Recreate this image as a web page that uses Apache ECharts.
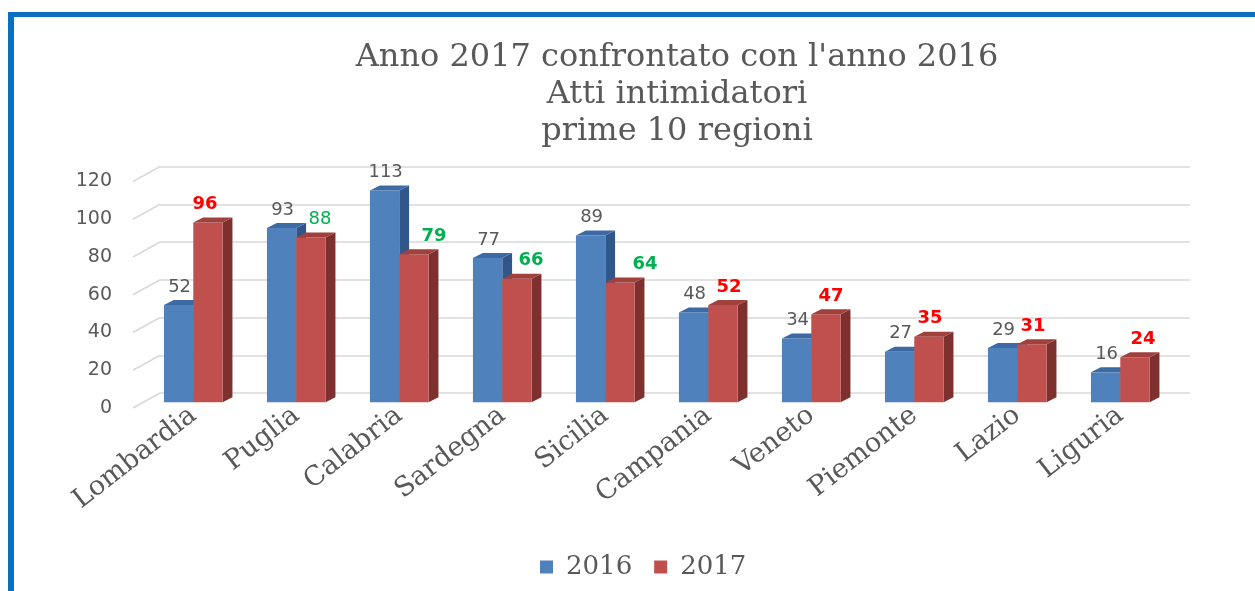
<!DOCTYPE html>
<html>
<head>
<meta charset="utf-8">
<script src="https://cdn.jsdelivr.net/npm/echarts@6/dist/echarts.min.js"></script>
<style>
  html, body { margin: 0; padding: 0; background: #ffffff; }
  #chart { position: absolute; left: 0; top: 0; width: 1255px; height: 591px; }
  #frame {
    position: absolute; left: 8px; top: 12px; right: 0; bottom: 0;
    border-left: 6px solid #0C70C2; border-top: 5px solid #0C70C2;
    pointer-events: none;
  }
</style>
</head>
<body>
<div id="chart"></div>
<div id="frame"></div>
<script>
// ---- data ----
const regions = ['Lombardia', 'Puglia', 'Calabria', 'Sardegna', 'Sicilia',
                 'Campania', 'Veneto', 'Piemonte', 'Lazio', 'Liguria'];
const values2016 = [52, 93, 113, 77, 89, 48, 34, 27, 29, 16];
const values2017 = [96, 88, 79, 66, 64, 52, 47, 35, 31, 24];
const seriesNames = ['2016', '2017'];
const yTicks = [0, 20, 40, 60, 80, 100, 120];
const titleLines = ["Anno 2017 confrontato con l'anno 2016", 'Atti intimidatori', 'prime 10 regioni'];

// ---- styling ----
const GREY = '#595959';
const SERIF = '"DejaVu Serif", "Liberation Serif", serif';
const SANS = '"DejaVu Sans", Verdana, sans-serif';
const palette = [
  { front: '#4F81BD', top: '#3D6AA5', side: '#30578A' },
  { front: '#C0504D', top: '#A0413E', side: '#7E302E' }
];
// horizontal shift of the 2017 value labels, in px
const labelShift2017 = [-3, 9, 20, 14, 25, 6, 5, 1, 1, 8];
const boldLabel2017 = [true, false, true, true, true, true, true, true, true, true];

const yMin = yTicks[0], yMax = yTicks[yTicks.length - 1], yStep = yTicks[1] - yTicks[0];

function labelStyle2017(i) {
  const down = values2017[i] < values2016[i];
  return {
    fill: down ? '#00B050' : '#FF0000',
    font: (boldLabel2017[i] ? 'bold ' : '') + '18px ' + SANS
  };
}

// 3D column: front face, right side face, top face and value label
function columnRenderer(slot) {
  return function (params, api) {
    const i = api.value(0);
    const v = api.value(1);
    const base = api.coord([i, 0]);
    const top = api.coord([i, v]);
    const band = api.size([1, 0])[0];
    const bw = band * 0.285;
    const dx = band * 0.095;
    const dy = 5;
    const x0 = base[0] - bw + slot * bw;
    const yT = top[1];
    const yB = base[1];
    const c = palette[slot];
    let lx = x0 + bw / 2 + 1;
    let ls = { fill: GREY, font: '18px ' + SANS };
    if (slot === 1) {
      lx = x0 + bw / 2 + labelShift2017[i];
      ls = labelStyle2017(i);
    }
    return {
      type: 'group',
      children: [
        { type: 'polygon',
          shape: { points: [[x0 + bw, yT], [x0 + bw + dx, yT - dy], [x0 + bw + dx, yB - dy], [x0 + bw, yB]] },
          style: { fill: c.side } },
        { type: 'rect',
          shape: { x: x0, y: yT, width: bw, height: yB - yT },
          style: { fill: c.front } },
        { type: 'polygon',
          shape: { points: [[x0, yT], [x0 + bw, yT], [x0 + bw + dx, yT - dy], [x0 + dx, yT - dy]] },
          style: { fill: c.top } },
        { type: 'text',
          x: lx, y: yT - dy - 13,
          style: Object.assign({ text: String(v), align: 'center', verticalAlign: 'middle' }, ls) }
      ]
    };
  };
}

// slanted lines joining the back wall gridlines to the front value labels
function wallEdgeRenderer(params, api) {
  const p = api.coord([0, api.value(0)]);
  return {
    type: 'line',
    shape: { x1: p[0], y1: p[1], x2: p[0] - 27, y2: p[1] + 15 },
    style: { stroke: '#D9D9D9', lineWidth: 1.5 }
  };
}

const chart = echarts.init(document.getElementById('chart'), null, { renderer: 'canvas' });

const valueAxisBase = { type: 'value', min: yMin, max: yMax, interval: yStep };

chart.setOption({
  animation: false,
  backgroundColor: '#ffffff',
  title: {
    text: titleLines.join('\n'),
    left: 677,
    top: 39,
    padding: 0,
    textAlign: 'center',
    textStyle: {
      fontFamily: SERIF, fontSize: 32, fontWeight: 'normal',
      color: GREY, lineHeight: 37, align: 'center'
    }
  },
  legend: {
    data: seriesNames,
    left: 535,
    top: 549,
    icon: 'rect',
    itemWidth: 13,
    itemHeight: 13,
    itemGap: 22,
    selectedMode: false,
    textStyle: { fontFamily: SERIF, fontSize: 26, color: GREY, padding: [0, 0, 0, 8] }
  },
  grid: [
    // back wall (gridlines)
    { left: 160, right: 65, top: 166.5, bottom: 198 },
    // columns
    { left: 141.8, right: 83.2, top: 177.5, bottom: 188.7 },
    // front edge (value labels)
    { left: 133, right: 92, top: 181.5, bottom: 183 }
  ],
  xAxis: [
    { gridIndex: 0, type: 'value', min: 0, max: 1, show: false },
    { gridIndex: 1, type: 'category', data: regions,
      axisLine: { show: false }, axisTick: { show: false },
      axisLabel: { interval: 0, rotate: 38, margin: 10,
        fontFamily: SERIF, fontSize: 27, color: GREY } },
    { gridIndex: 2, type: 'category', data: regions, show: false }
  ],
  yAxis: [
    Object.assign({ gridIndex: 0,
      axisLine: { show: false }, axisTick: { show: false }, axisLabel: { show: false },
      splitLine: { show: true, lineStyle: { color: '#D9D9D9', width: 1.5 } } }, valueAxisBase),
    Object.assign({ gridIndex: 1, show: false, splitLine: { show: false } }, valueAxisBase),
    Object.assign({ gridIndex: 2,
      axisLine: { show: false }, axisTick: { show: false }, splitLine: { show: false },
      axisLabel: { margin: 21, fontFamily: SANS, fontSize: 19, color: GREY } }, valueAxisBase)
  ],
  series: [
    { type: 'custom', name: 'edges', xAxisIndex: 0, yAxisIndex: 0, silent: true,
      renderItem: wallEdgeRenderer, data: yTicks.map(v => [v]) },
    { type: 'custom', name: seriesNames[0], xAxisIndex: 1, yAxisIndex: 1,
      itemStyle: { color: palette[0].front },
      renderItem: columnRenderer(0),
      data: values2016.map((v, i) => [i, v]) },
    { type: 'custom', name: seriesNames[1], xAxisIndex: 1, yAxisIndex: 1,
      itemStyle: { color: palette[1].front },
      renderItem: columnRenderer(1),
      data: values2017.map((v, i) => [i, v]) }
  ]
});
</script>
</body>
</html>
